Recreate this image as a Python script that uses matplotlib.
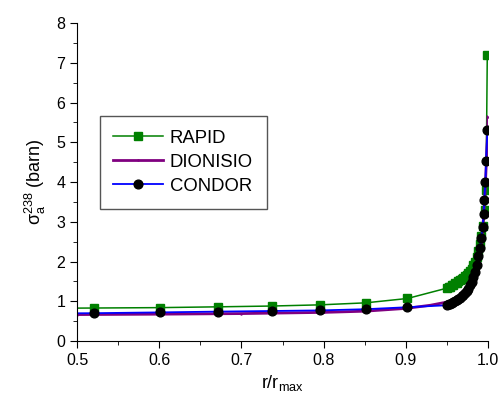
import numpy as np
import matplotlib
matplotlib.use("Agg")
import matplotlib.pyplot as plt
from matplotlib.ticker import MultipleLocator

plt.rcParams['font.family'] = ['Liberation Sans', 'DejaVu Sans']
plt.rcParams['mathtext.default'] = 'regular'

# RAPID
r_rapid = [0.44, 0.521, 0.601, 0.672, 0.737, 0.796, 0.851, 0.902,
           0.950, 0.952, 0.954, 0.956, 0.958, 0.960, 0.962, 0.964, 0.966, 0.968,
           0.970, 0.972, 0.974, 0.976, 0.978, 0.980, 0.982, 0.984, 0.986, 0.988,
           0.990, 0.992, 0.994, 0.9968, 0.9976, 0.9991]
s_rapid = [0.82, 0.83, 0.84, 0.86, 0.88, 0.91, 0.96, 1.07,
           1.33, 1.35, 1.37, 1.40, 1.42, 1.45, 1.47, 1.50, 1.53, 1.56,
           1.59, 1.63, 1.67, 1.71, 1.76, 1.82, 1.90, 2.00, 2.12, 2.27,
           2.45, 2.65, 2.90, 3.29, 3.81, 7.20]

# DIONISIO
r_dion = [0.44, 0.5, 0.6, 0.7, 0.8, 0.85, 0.9, 0.93, 0.95, 0.96, 0.97, 0.975,
          0.98, 0.984, 0.987, 0.99, 0.992, 0.994, 0.996, 0.998, 1.0]
s_dion = [0.66, 0.665, 0.675, 0.69, 0.72, 0.75, 0.82, 0.90, 0.98, 1.04, 1.14, 1.24,
          1.38, 1.58, 1.82, 2.15, 2.48, 2.95, 3.60, 4.50, 5.64]

# CONDOR
r_condor = [0.44, 0.521, 0.601, 0.672, 0.737, 0.796, 0.851, 0.902,
            0.950, 0.952, 0.954, 0.956, 0.958, 0.960, 0.962, 0.964, 0.966, 0.968,
            0.970, 0.972, 0.974, 0.976, 0.978, 0.980, 0.982, 0.984, 0.986, 0.988,
            0.990, 0.992, 0.9935, 0.9947, 0.9955, 0.9968, 0.9976, 0.9993]
s_condor = [0.69, 0.70, 0.72, 0.74, 0.755, 0.77, 0.80, 0.85,
            0.90, 0.92, 0.94, 0.96, 0.98, 1.00, 1.03, 1.06, 1.09, 1.12,
            1.16, 1.20, 1.26, 1.32, 1.40, 1.48, 1.60, 1.74, 1.92, 2.14,
            2.35, 2.60, 2.87, 3.19, 3.54, 3.99, 4.54, 5.32]

fig = plt.figure(figsize=(5.04, 4.05), dpi=100)
ax = fig.add_axes([0.1528, 0.1580, 0.8155, 0.7852])

ax.plot(r_rapid, s_rapid, color='green', lw=1.1, marker='s', ms=5.5, label='RAPID')
ax.plot(r_dion, s_dion, color='purple', lw=2.0, marker='.', ms=1.5, label='DIONISIO')
ax.plot(r_condor, s_condor, color='blue', lw=1.3, marker='o', ms=6.3, mfc='black',
        mec='black', label='CONDOR')

ax.set_xlim(0.5, 1.0)
ax.set_ylim(0, 8)
ax.xaxis.set_major_locator(MultipleLocator(0.1))
ax.xaxis.set_minor_locator(MultipleLocator(0.05))
ax.yaxis.set_major_locator(MultipleLocator(1))
ax.yaxis.set_minor_locator(MultipleLocator(0.5))
ax.xaxis.set_major_formatter(plt.FormatStrFormatter('%.1f'))
ax.spines['top'].set_visible(False)
ax.spines['right'].set_visible(False)
ax.tick_params(which='major', direction='out', length=5, labelsize=11.5)
ax.tick_params(which='minor', direction='out', length=3)

ax.set_xlabel('r/r$_{max}$', fontsize=13, labelpad=4)
ax.set_ylabel(r'$\sigma_a^{238}$ (barn)', fontsize=13, labelpad=6)

leg = ax.legend(loc='upper left', bbox_to_anchor=(0.055, 0.708), borderaxespad=0,
                fontsize=13.3, fancybox=False, edgecolor='#555555', framealpha=1,
                handlelength=2.7, handletextpad=0.35, labelspacing=0.38,
                borderpad=0.75)
leg.get_frame().set_linewidth(1.0)

fig.savefig('out.png', dpi=100)
